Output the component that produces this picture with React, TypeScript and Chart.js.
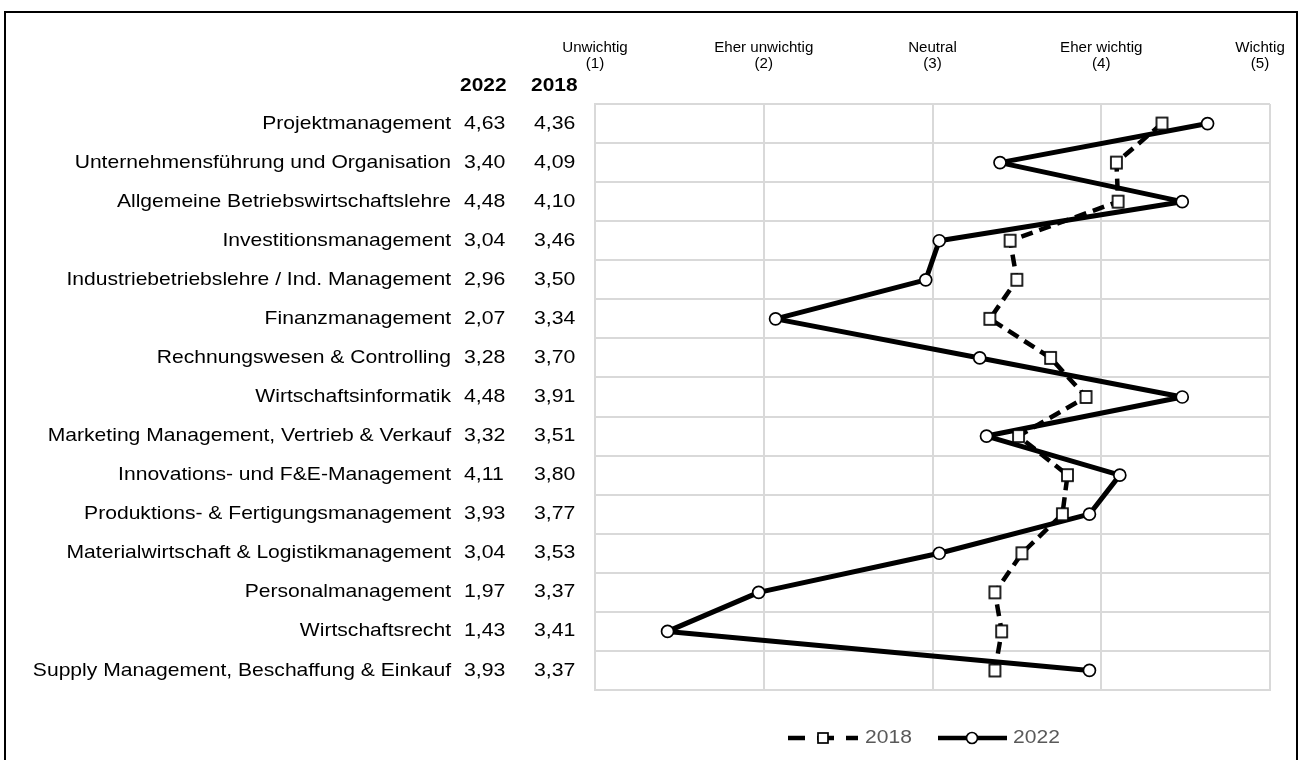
import React, { useEffect, useRef } from "react";
import { Chart, registerables } from "chart.js";

Chart.register(...registerables);

const categories: string[] = [
  "Projektmanagement",
  "Unternehmensführung und Organisation",
  "Allgemeine Betriebswirtschaftslehre",
  "Investitionsmanagement",
  "Industriebetriebslehre / Ind. Management",
  "Finanzmanagement",
  "Rechnungswesen & Controlling",
  "Wirtschaftsinformatik",
  "Marketing Management, Vertrieb & Verkauf",
  "Innovations- und F&E-Management",
  "Produktions- & Fertigungsmanagement",
  "Materialwirtschaft & Logistikmanagement",
  "Personalmanagement",
  "Wirtschaftsrecht",
  "Supply Management, Beschaffung & Einkauf",
];

const values2022: number[] = [4.63, 3.4, 4.48, 3.04, 2.96, 2.07, 3.28, 4.48, 3.32, 4.11, 3.93, 3.04, 1.97, 1.43, 3.93];
const values2018: number[] = [4.36, 4.09, 4.1, 3.46, 3.5, 3.34, 3.7, 3.91, 3.51, 3.8, 3.77, 3.53, 3.37, 3.41, 3.37];

const scaleLabels: string[][] = [
  ["Unwichtig", "(1)"],
  ["Eher unwichtig", "(2)"],
  ["Neutral", "(3)"],
  ["Eher wichtig", "(4)"],
  ["Wichtig", "(5)"],
];
const scaleValues: number[] = [1, 2, 3, 4, 5];
const seriesNames: string[] = ["2018", "2022"];

const FONT = '"Liberation Sans", Arial, Helvetica, sans-serif';

const fmt = (v: number) => v.toFixed(2).replace(".", ",");

function txt(
  ctx: CanvasRenderingContext2D,
  s: string,
  x: number,
  y: number,
  align: CanvasTextAlign,
  font: string,
  color: string,
  sx: number
) {
  ctx.save();
  ctx.font = font;
  ctx.fillStyle = color;
  ctx.textBaseline = "middle";
  ctx.textAlign = align;
  ctx.translate(x, y);
  ctx.scale(sx, 1);
  ctx.fillText(s, 0, 0);
  ctx.restore();
}

function makeSquare(w: number, h: number, lw: number): HTMLCanvasElement {
  const c = document.createElement("canvas");
  c.width = w + 4;
  c.height = h + 4;
  const g = c.getContext("2d")!;
  g.fillStyle = "#ffffff";
  g.fillRect(2, 2, w, h);
  g.strokeStyle = "#000000";
  g.lineWidth = lw;
  g.strokeRect(2, 2, w, h);
  return c;
}

export default function App() {
  const ref = useRef<HTMLCanvasElement | null>(null);

  useEffect(() => {
    if (!ref.current) return;
    const square = makeSquare(11, 12, 1.7);
    const legendSquare = makeSquare(10, 10, 1.7);

    const decor = {
      id: "decor",
      afterDraw(chart: any) {
        const ctx: CanvasRenderingContext2D = chart.ctx;
        const xs = chart.scales.x;
        const ys = chart.scales.y;
        // outer frame
        ctx.save();
        ctx.strokeStyle = "#000000";
        ctx.lineWidth = 2;
        ctx.strokeRect(5, 12, 1292, 760);
        ctx.restore();

        // top scale labels
        scaleLabels.forEach((lines, i) => {
          let x = xs.getPixelForValue(scaleValues[i]);
          if (i === scaleLabels.length - 1) x -= 10;
          txt(ctx, lines[0], x, 48, "center", `14px ${FONT}`, "#000000", 1.08);
          txt(ctx, lines[1], x, 64, "center", `14px ${FONT}`, "#000000", 1.08);
        });

        // headers
        txt(ctx, seriesNames[1], 460, 86, "left", `bold 18.5px ${FONT}`, "#000000", 1.13);
        txt(ctx, seriesNames[0], 531, 86, "left", `bold 18.5px ${FONT}`, "#000000", 1.13);

        // row labels
        categories.forEach((c, i) => {
          const y = ys.getPixelForValue(i + 0.5);
          txt(ctx, c, 451, y, "right", `18.5px ${FONT}`, "#000000", 1.14);
          txt(ctx, fmt(values2022[i]), 464, y, "left", `18.5px ${FONT}`, "#000000", 1.15);
          txt(ctx, fmt(values2018[i]), 534, y, "left", `18.5px ${FONT}`, "#000000", 1.15);
        });

        // legend
        const ly = 738;
        ctx.save();
        ctx.strokeStyle = "#000000";
        ctx.lineWidth = 4.5;
        ctx.setLineDash([17, 12]);
        ctx.beginPath();
        ctx.moveTo(788, ly);
        ctx.lineTo(858, ly);
        ctx.stroke();
        ctx.setLineDash([]);
        ctx.drawImage(legendSquare, 823 - legendSquare.width / 2, ly - legendSquare.height / 2);
        ctx.beginPath();
        ctx.moveTo(938, ly);
        ctx.lineTo(1007, ly);
        ctx.stroke();
        ctx.beginPath();
        ctx.arc(972, ly, 5.5, 0, Math.PI * 2);
        ctx.fillStyle = "#ffffff";
        ctx.fill();
        ctx.lineWidth = 1.7;
        ctx.stroke();
        ctx.restore();
        txt(ctx, seriesNames[0], 865, ly, "left", `18px ${FONT}`, "#595959", 1.17);
        txt(ctx, seriesNames[1], 1013, ly, "left", `18px ${FONT}`, "#595959", 1.17);
      },
    };

    const chart = new Chart(ref.current, {
      type: "line",
      data: {
        datasets: [
          {
            label: seriesNames[0],
            data: values2018.map((v, i) => ({ x: v, y: i + 0.5 })),
            borderColor: "#000000",
            borderWidth: 4.5,
            borderDash: [12, 7],
            borderJoinStyle: "round",
            pointStyle: square as any,
            pointRadius: 6,
            tension: 0,
            fill: false,
          },
          {
            label: seriesNames[1],
            data: values2022.map((v, i) => ({ x: v, y: i + 0.5 })),
            borderColor: "#000000",
            borderWidth: 5,
            borderJoinStyle: "round",
            pointStyle: "circle",
            pointRadius: 6,
            pointBorderWidth: 1.7,
            pointBackgroundColor: "#ffffff",
            pointBorderColor: "#000000",
            tension: 0,
            fill: false,
          },
        ],
      },
      options: {
        animation: false,
        responsive: false,
        devicePixelRatio: 1,
        parsing: false as any,
        layout: { padding: { left: 595, top: 104, right: 31, bottom: 70 } },
        plugins: { legend: { display: false }, tooltip: { enabled: false } },
        scales: {
          x: {
            type: "linear",
            min: 1,
            max: 5,
            ticks: { display: false, stepSize: 1 },
            grid: { color: "#d9d9d9", lineWidth: 2, drawTicks: false },
            border: { display: true, color: "#d9d9d9", width: 2 },
          },
          y: {
            type: "linear",
            min: 0,
            max: 15,
            reverse: true,
            ticks: { display: false, stepSize: 1 },
            grid: { color: "#d9d9d9", lineWidth: 2, drawTicks: false },
            border: { display: true, color: "#d9d9d9", width: 2 },
          },
        },
      },
      plugins: [decor],
    });
    return () => chart.destroy();
  }, []);

  return (
    <div style={{ position: "absolute", left: 0, top: 0, width: 1301, height: 760, background: "#ffffff" }}>
      <canvas ref={ref} width={1301} height={760} style={{ display: "block" }} />
    </div>
  );
}
